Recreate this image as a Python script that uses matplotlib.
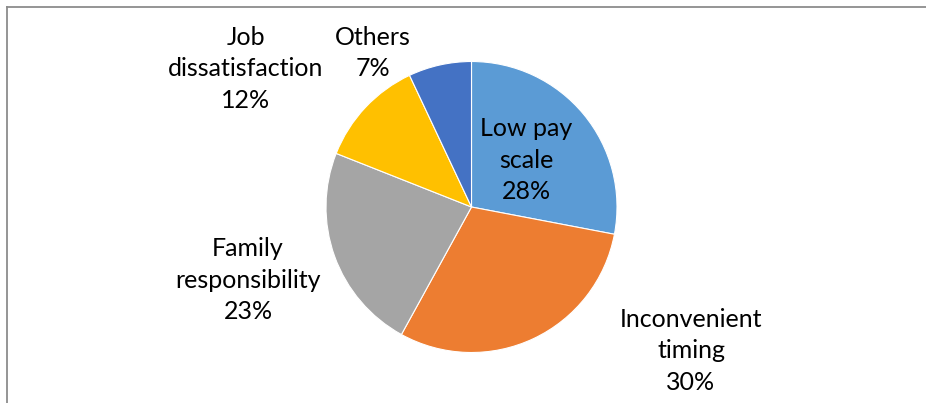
import matplotlib.pyplot as plt
from matplotlib.lines import Line2D

# reasons for leaving, in percent
reasons = ["Low pay\nscale", "Inconvenient\ntiming", "Family\nresponsibility",
           "Job\ndissatisfaction", "Others"]
shares = [28, 30, 23, 12, 7]
colors = ["#5b9bd5", "#ed7d31", "#a5a5a5", "#ffc000", "#4472c4"]

# where each label sits (pixel coords, y measured from top)
label_x = [526, 691, 248, 246, 373]
label_y = [160, 351, 280, 69, 53]

W, H = 926, 403
fig = plt.figure(figsize=(W / 100, H / 100), dpi=100)
ax = fig.add_axes([0, 0, 1, 1])

ax.pie(shares, colors=colors, startangle=90, counterclock=False,
       center=(471.5, H - 207), radius=145.5,
       wedgeprops=dict(edgecolor="white", linewidth=0.8), frame=True)
ax.set_xlim(0, W)
ax.set_ylim(0, H)
ax.set_aspect("equal")
ax.axis("off")

for name, v, x, y in zip(reasons, shares, label_x, label_y):
    ax.text(x, H - y, f"{name}\n{v}%", ha="center", va="center",
            fontsize=18, family="Lato", color="black", linespacing=1.47)

# chart frame: only top and left edges visible
fig.add_artist(Line2D([7 / W, 1], [1 - 7 / H, 1 - 7 / H], color="#8c8c8c", lw=1.3))
fig.add_artist(Line2D([7 / W, 7 / W], [0, 1 - 7 / H], color="#8c8c8c", lw=1.3))

fig.savefig("out.png", dpi=100)
